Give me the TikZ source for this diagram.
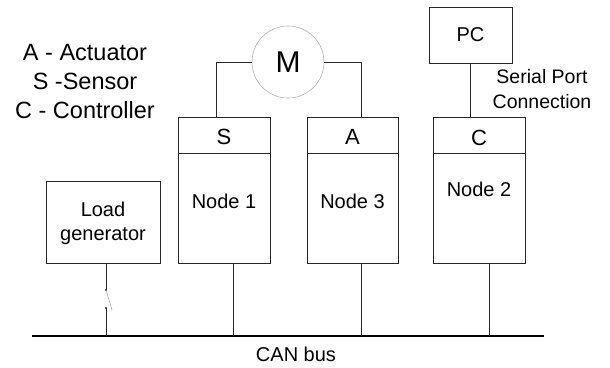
\documentclass[tikz,border=0pt]{standalone}
\usepackage{fontspec}
\setmainfont{Liberation Sans}
\begin{document}
\begin{tikzpicture}[x=1pt,y=-1pt,
  box/.style={draw=black!85, line width=0.9pt, rectangle, inner sep=0pt, outer sep=0pt},
  wire/.style={draw=black!85, line width=0.9pt},
  txt/.style={anchor=base, inner sep=0pt, outer sep=0pt, font=\fontsize{20}{24}\selectfont},
  legend/.style={txt, font=\fontsize{23.5}{28}\selectfont},
  head/.style={txt, font=\fontsize{22}{26}\selectfont}]
\useasboundingbox (0,0) rectangle (610,367);

% legend
\node[legend] (la) at (85,60) {A - Actuator};
\node[legend] (ls) at (85,89.5) {S -Sensor};
\node[legend] (lc) at (85,118.5) {C - Controller};

% motor
\node[circle, draw=black!30, line width=0.6pt, fill=white, minimum size=72pt, inner sep=0pt, outer sep=0pt] (m) at (288,62) {};
\node[txt, font=\fontsize{30}{34}\selectfont] (mt) at (288,72.7) {M};

% node 1
\node[box, minimum width=92pt, minimum height=36pt] (h1) at (224,135) {};
\node[box, minimum width=92pt, minimum height=110pt] (b1) at (224,208) {};
\node[head] (t1) at (224,144.5) {S};
\node[txt] (n1) at (224,208.3) {Node 1};

% node 3
\node[box, minimum width=91pt, minimum height=36pt] (h3) at (352.5,135) {};
\node[box, minimum width=91pt, minimum height=110pt] (b3) at (352.5,208) {};
\node[head] (t3) at (352.5,144.5) {A};
\node[txt] (n3) at (352.5,208.3) {Node 3};

% node 2
\node[box, minimum width=92pt, minimum height=36pt] (h2) at (479,135) {};
\node[box, minimum width=92pt, minimum height=110pt] (b2) at (479,208) {};
\node[head] (t2) at (479,145) {C};
\node[txt] (n2) at (479,196.7) {Node 2};

% PC
\node[box, minimum width=83pt, minimum height=56pt] (pc) at (470.5,35) {};
\node[txt] (pct) at (470.5,41.7) {PC};
\node[txt, font=\fontsize{19.5}{24}\selectfont] (sp1) at (542,83.3) {Serial Port};
\node[txt, font=\fontsize{19.5}{24}\selectfont] (sp2) at (542,108) {Connection};

% load generator
\node[box, minimum width=114pt, minimum height=82pt] (lg) at (103,222) {};
\node[txt] (lg1) at (103,216.7) {Load};
\node[txt] (lg2) at (103,240.5) {generator};

% bus
\coordinate (busL) at (32,336);
\coordinate (busR) at (544,336);
\draw[black, line width=2.6pt] (busL) -- (busR);
\node[txt] (can) at (296,361.5) {CAN bus};

% motor wires
\draw[wire] (m.west) -| ([xshift=-8pt]h1.north);
\draw[wire] (m.east) -| ([xshift=8.5pt]h3.north);

% serial
\draw[wire] (pc.south) -- (pc.south |- h2.north);

% drops to bus
\draw[wire] ([xshift=9pt]b1.south) -- ([xshift=9pt]b1.south |- busL);
\draw[wire] ([xshift=8.5pt]b3.south) -- ([xshift=8.5pt]b3.south |- busL);
\draw[wire] ([xshift=10pt]b2.south) -- ([xshift=10pt]b2.south |- busL);

% switch
\coordinate (sw1) at (106,290);
\coordinate (sw2) at (106,308);
\draw[wire] ([xshift=3pt]lg.south) -- (sw1);
\draw[wire] (sw2) -- (sw2 |- busL);
\fill[black!85] (sw1) circle (1.2pt);
\fill[black!85] (sw2) circle (1.2pt);
\draw[black!35, line width=0.6pt] (sw1) -- ([xshift=6pt,yshift=-2pt]sw2);
\end{tikzpicture}
\end{document}
